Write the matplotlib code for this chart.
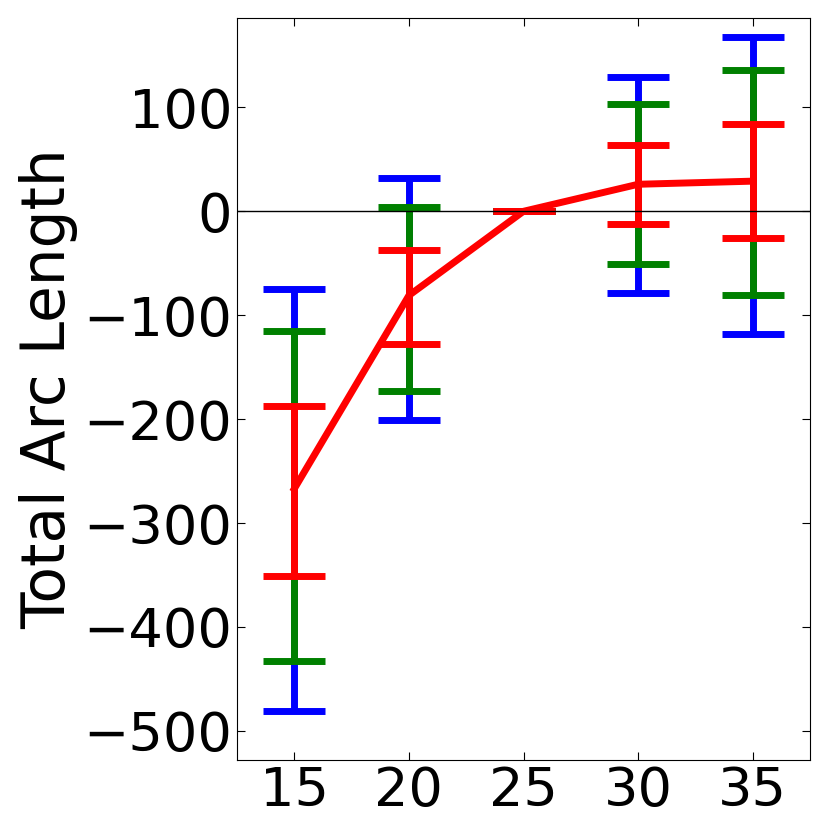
import matplotlib
matplotlib.use("Agg")
import matplotlib.pyplot as plt
import numpy as np

x = [15, 20, 25, 30, 35]
mean = [-267, -81, 0, 26, 29]
red_hi = [-187, -37, 0, 64, 84]
red_lo = [-351, -128, 0, -12, -26]
green_hi = [-115, 4, 0, 103, 136]
green_lo = [-433, -173, 0, -51, -81]
blue_hi = [-75, 32, 0, 129, 168]
blue_lo = [-481, -201, 0, -79, -118]

fig = plt.figure(figsize=(8.3, 8.3), dpi=100)
ax = fig.add_axes([237/830, 70/830, 573/830, 742/830])
m = np.array(mean)
for hi, lo, c in [(blue_hi, blue_lo, 'blue'), (green_hi, green_lo, 'green'), (red_hi, red_lo, 'red')]:
    err = [m - np.array(lo), np.array(hi) - m]
    ax.errorbar(x, mean, yerr=err, fmt='none', ecolor=c, elinewidth=5, capsize=22, capthick=5)
ax.plot(x, mean, color='red', lw=5)
ax.axhline(0, color='black', lw=1)
ax.set_xlim(12.5, 37.5)
ax.set_ylim(-528, 186)
ax.set_xticks(x)
ax.set_yticks([100, 0, -100, -200, -300, -400, -500])
ax.tick_params(direction='in', top=True, right=True, labelsize=39, length=6)
ax.set_yticklabels(['100', '0', '\u2212100', '\u2212200', '\u2212300', '\u2212400', '\u2212500'])
ax.set_ylabel('Total Arc Length', fontsize=43)
fig.savefig('out.png', dpi=100)
